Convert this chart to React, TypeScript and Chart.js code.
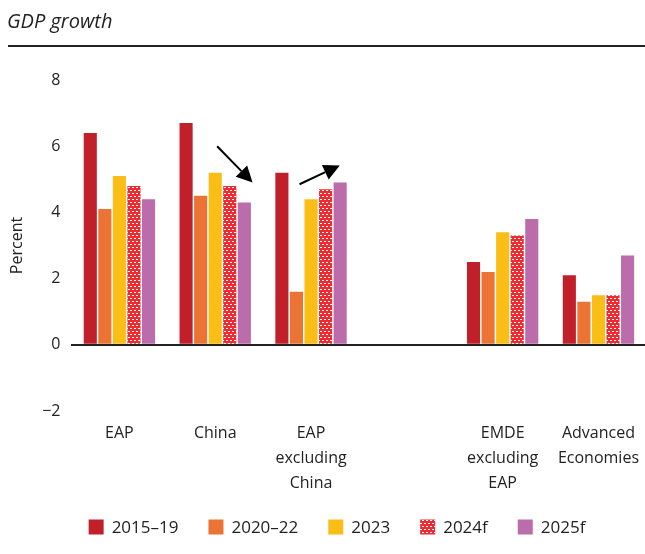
import React, { useEffect, useRef } from "react";
import { Chart, registerables } from "chart.js";
Chart.register(...registerables);

const titleText = "GDP growth";
const yAxisTitle = "Percent";
const categories: string[][] = [
  ["EAP"],
  ["China"],
  ["EAP", "excluding", "China"],
  [""],
  ["EMDE", "excluding", "EAP"],
  ["Advanced", "Economies"],
];
const seriesNames = ["2015–19", "2020–22", "2023", "2024f", "2025f"];
const s2015_19 = [6.4, 6.7, 5.2, null, 2.5, 2.1];
const s2020_22 = [4.1, 4.5, 1.6, null, 2.2, 1.3];
const s2023 = [5.1, 5.2, 4.4, null, 3.4, 1.5];
const s2024f = [4.8, 4.8, 4.7, null, 3.3, 1.5];
const s2025f = [4.4, 4.3, 4.9, null, 3.8, 2.7];
const yTicks = [-2, 0, 2, 4, 6, 8];
// annotation arrows in data space: [category index, value]
const arrows = [
  { from: [1.02, 6.0], to: [1.39, 4.9] },
  { from: [1.88, 4.85], to: [2.3, 5.42] },
];

const FONT = "'Open Sans', 'DejaVu Sans', sans-serif";
const colors = ["#C11F2A", "#EB7434", "#FBBE16", "#EE2B30", "#BC6BAB"];
const LEGEND_CENTER_X = 337;
const LEGEND_CENTER_Y = 527;

function makePattern(): CanvasPattern | string {
  const c = document.createElement("canvas");
  c.width = 4;
  c.height = 6;
  const g = c.getContext("2d");
  if (!g) return colors[3];
  g.fillStyle = colors[3];
  g.fillRect(0, 0, 4, 6);
  g.fillStyle = "#FFFFFF";
  g.fillRect(0, 1, 2, 1);
  g.fillRect(2, 4, 2, 1);
  const p = g.createPattern(c, "repeat");
  return p || colors[3];
}

const decorPlugin = {
  id: "decor",
  beforeDraw(chart: any) {
    const ctx = chart.ctx;
    ctx.save();
    ctx.fillStyle = "#222";
    ctx.font = `italic 20px ${FONT}`;
    ctx.textBaseline = "middle";
    ctx.textAlign = "left";
    ctx.fillText(titleText, 7, 22);
    ctx.strokeStyle = "#222";
    ctx.lineWidth = 2;
    ctx.beginPath();
    ctx.moveTo(8, 46);
    ctx.lineTo(645, 46);
    ctx.stroke();
    ctx.restore();
  },
  afterDraw(chart: any) {
    // legend
    const ctx = chart.ctx;
    const fills = chart.data.datasets.map((d: any) => d.backgroundColor);
    ctx.save();
    ctx.font = `17px ${FONT}`;
    ctx.textBaseline = "middle";
    ctx.textAlign = "left";
    const box = 15;
    const gapText = 8;
    const gapItem = 30;
    const widths = seriesNames.map((n) => box + gapText + ctx.measureText(n).width);
    const total = widths.reduce((a: number, b: number) => a + b, 0) + gapItem * (widths.length - 1);
    let x = LEGEND_CENTER_X - total / 2;
    const cy = LEGEND_CENTER_Y;
    seriesNames.forEach((n, i) => {
      ctx.fillStyle = fills[i];
      ctx.fillRect(x, cy - box / 2, box, box);
      ctx.fillStyle = "#222";
      ctx.fillText(n, x + box + gapText, cy + 1);
      x += widths[i] + gapItem;
    });
    ctx.restore();
  },
  afterDatasetsDraw(chart: any) {
    const ctx = chart.ctx;
    const xs = chart.scales.x;
    const ys = chart.scales.y;
    ctx.save();
    ctx.strokeStyle = "#000";
    ctx.fillStyle = "#000";
    ctx.lineWidth = 2;
    for (const a of arrows) {
      const x1 = xs.getPixelForValue(a.from[0]);
      const y1 = ys.getPixelForValue(a.from[1]);
      const x2 = xs.getPixelForValue(a.to[0]);
      const y2 = ys.getPixelForValue(a.to[1]);
      const ang = Math.atan2(y2 - y1, x2 - x1);
      const hl = 16;
      const hw = 8;
      const bx = x2 - hl * Math.cos(ang);
      const by = y2 - hl * Math.sin(ang);
      ctx.beginPath();
      ctx.moveTo(x1, y1);
      ctx.lineTo(bx, by);
      ctx.stroke();
      ctx.beginPath();
      ctx.moveTo(x2, y2);
      ctx.lineTo(bx + hw * Math.sin(ang), by - hw * Math.cos(ang));
      ctx.lineTo(bx - hw * Math.sin(ang), by + hw * Math.cos(ang));
      ctx.closePath();
      ctx.fill();
    }
    ctx.restore();
  },
};

export default function App() {
  const ref = useRef<HTMLCanvasElement | null>(null);
  useEffect(() => {
    document.body.style.margin = "0";
    const canvas = ref.current;
    if (!canvas) return;
    const pattern = makePattern();
    const fills = [colors[0], colors[1], colors[2], pattern, colors[4]];
    const seriesData = [s2015_19, s2020_22, s2023, s2024f, s2025f];
    const chart = new Chart(canvas, {
      type: "bar",
      data: {
        labels: categories,
        datasets: seriesNames.map((name, i) => ({
          label: name,
          data: seriesData[i],
          backgroundColor: fills[i] as any,
          borderWidth: 0,
          barPercentage: 0.9,
          categoryPercentage: 0.76,
        })),
      },
      options: {
        animation: false,
        responsive: false,
        maintainAspectRatio: false,
        layout: { padding: { top: 80, right: 0, left: 0, bottom: 48 } },
        plugins: {
          tooltip: { enabled: false },
          title: { display: false },
          legend: { display: false },
        },
        scales: {
          x: {
            grid: { display: false, drawTicks: false },
            border: { display: false },
            ticks: {
              color: "#222",
              font: { family: FONT, size: 16, lineHeight: 1.5625 },
              padding: 10,
              maxRotation: 0,
              autoSkip: false,
            },
          },
          y: {
            min: -2,
            max: 8,
            afterBuildTicks: (axis: any) => {
              axis.ticks = yTicks.map((v) => ({ value: v }));
            },
            grid: {
              drawTicks: false,
              color: (c: any) => (c.tick && c.tick.value === 0 ? "#222" : "rgba(0,0,0,0)"),
              lineWidth: 2,
            },
            border: { display: false },
            ticks: {
              color: "#222",
              font: { family: FONT, size: 16 },
              padding: 11,
              callback: (v: any) => (Number(v) < 0 ? "\u2212" + Math.abs(Number(v)) : String(v)),
            },
            title: {
              display: true,
              text: yAxisTitle,
              color: "#222",
              font: { family: FONT, size: 16 },
              padding: { top: 8, bottom: 4 },
            },
          },
        },
      },
      plugins: [decorPlugin],
    });
    return () => chart.destroy();
  }, []);
  return (
    <div style={{ position: "fixed", left: 0, top: 0, width: 645, height: 554, overflow: "hidden", background: "#fff" }}>
      <canvas ref={ref} width={649} height={554} style={{ width: 649, height: 554, display: "block" }} />
    </div>
  );
}
